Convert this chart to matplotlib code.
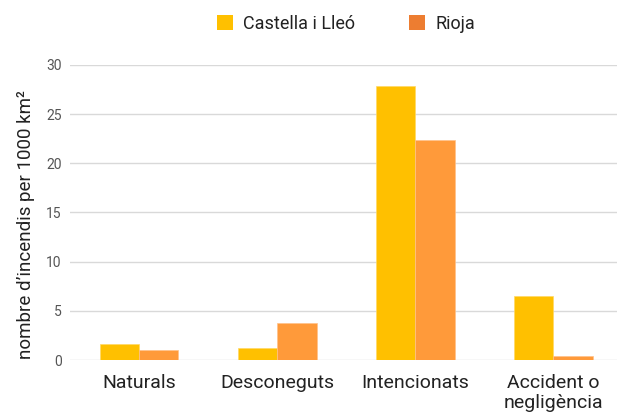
import matplotlib
matplotlib.use("Agg")
import matplotlib.pyplot as plt
import numpy as np
from matplotlib.patches import Patch

categories = ["Naturals", "Desconeguts", "Intencionats", "Accident o\nnegligència"]
series_names = ["Castella i Lleó", "Rioja"]
castella = [1.66, 1.22, 27.85, 6.49]
rioja = [1.01, 3.75, 22.36, 0.37]
yticks = [0, 5, 10, 15, 20, 25, 30]

plt.rcParams['font.family'] = ['Roboto', 'DejaVu Sans']

W, H = 617, 417
fig = plt.figure(figsize=(W/100, H/100), dpi=100)
left, right, bottom, top = 70, 617, 417-360, 417-65
ax = fig.add_axes([left/W, bottom/H, (right-left)/W, (top-bottom)/H])

x = np.arange(len(categories))
bw = 0.285
ax.bar(x - bw/2, castella, bw, color="#FFC000", edgecolor="#FFD966", linewidth=0.5, zorder=3)
ax.bar(x + bw/2, rioja, bw, color="#FF9A3A", edgecolor="#FFC18A", linewidth=0.5, zorder=3)

ax.set_xlim(-0.5, 3.46)
ax.set_ylim(0, 30)
ax.set_yticks(yticks)
ax.set_yticklabels([str(t) for t in yticks], color="#555555", fontsize=10)
ax.yaxis.grid(True, color="#D9D9D9", linewidth=1, zorder=0)
ax.set_xticks(x)
ax.set_xticklabels(categories, fontsize=14, color="#222222", linespacing=1.15)
ax.tick_params(axis='both', length=0)
ax.tick_params(axis='y', pad=6)
ax.tick_params(axis='x', pad=10)
for s in ax.spines.values():
    s.set_visible(False)
ax.set_axisbelow(True)

fig.text(26/W, 1-225/H, "nombre d’incendis per 1000 km²", rotation=90,
         ha="center", va="center", fontsize=13.5, color="#222222")

handles = [Patch(facecolor="#FFC000"), Patch(facecolor="#ED7D31")]
fig.legend(handles, series_names, loc="center", bbox_to_anchor=(346/W, 1-24/H),
           ncol=2, frameon=False, fontsize=13, handlelength=0.9, handleheight=0.9,
           columnspacing=3.0, handletextpad=0.55, labelcolor="#222222")

fig.savefig("out.png", dpi=100)
